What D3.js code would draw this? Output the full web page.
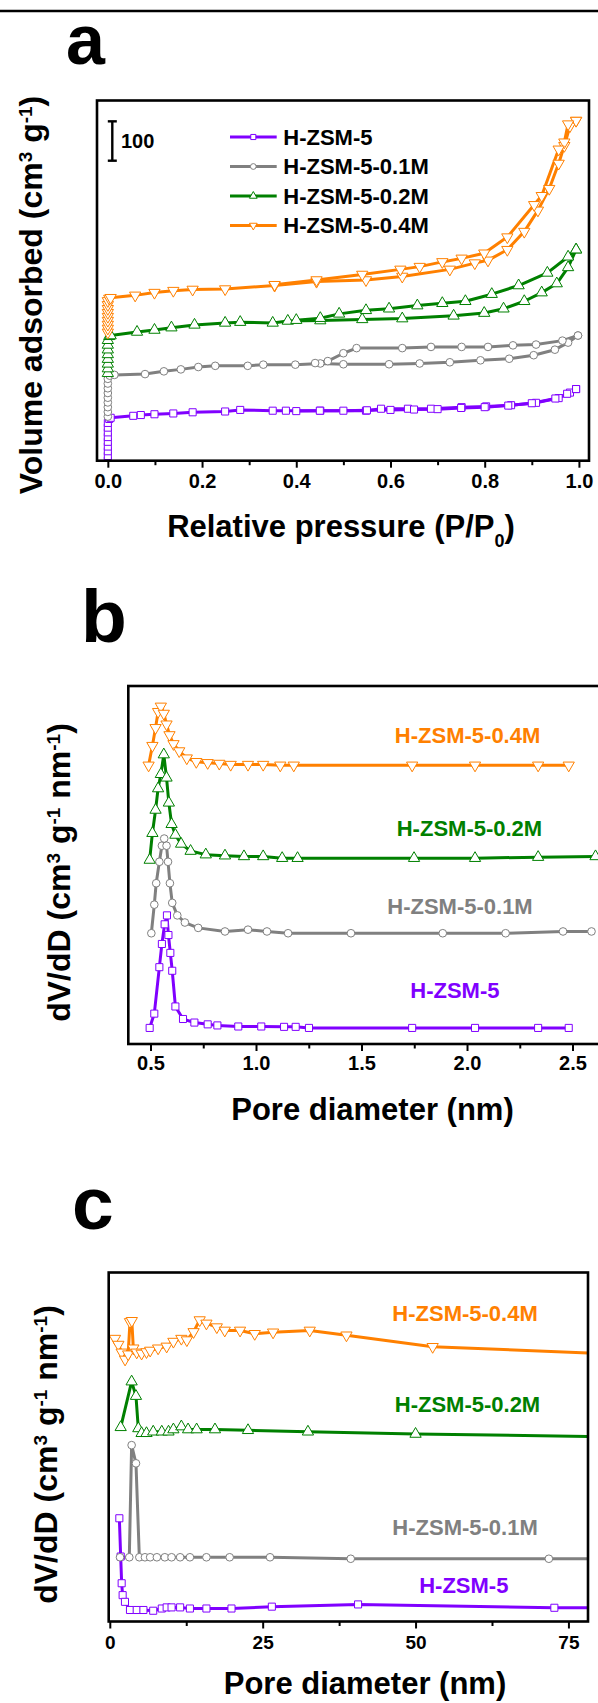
<!DOCTYPE html>
<html><head><meta charset="utf-8">
<script src="https://cdn.jsdelivr.net/npm/d3@7"></script>
<style>body{margin:0;background:#fff;}</style>
</head><body><svg id="fig" width="598" height="1703"></svg>
<script>
// ---------------- DATA ----------------
const seriesNames = ["H-ZSM-5", "H-ZSM-5-0.1M", "H-ZSM-5-0.2M", "H-ZSM-5-0.4M"];

// Panel a: N2 isotherms, x = P/P0, y = volume adsorbed (offset-stacked, cm3/g units)
const isoZSM5Ads = [[0,0],[0,12],[0,24],[0,36],[0,48],[0,60],[0,72],[0,84],[0,96],[0.003,106],[0.006,109],[0.054,114],[0.07,116],[0.099,118],[0.139,120],[0.18,123],[0.249,125],[0.281,129],[0.35,127],[0.378,127],[0.451,127],[0.548,127],[0.58,132],[0.637,132],[0.686,132],[0.751,136],[0.803,138],[0.856,141],[0.909,147],[0.957,159],[0.981,173],[0.994,182]];
const isoZSM5Des = [[0.994,182],[0.975,170],[0.95,158],[0.9,146],[0.85,140],[0.8,136],[0.75,134],[0.7,131],[0.65,130],[0.6,129],[0.55,128],[0.5,127],[0.45,127],[0.4,126]];
const iso01Ads = [[0,112],[0,124],[0,136],[0,148],[0,160],[0,172],[0,184],[0,196],[0,208],[0.004,216],[0.014,218],[0.079,220],[0.119,227],[0.155,232],[0.192,238],[0.228,241],[0.297,241],[0.33,244],[0.398,244],[0.451,247],[0.5,245],[0.597,245],[0.662,247],[0.726,250],[0.791,255],[0.852,259],[0.904,268],[0.949,282],[0.977,300],[0.998,318]];
const iso01Des = [[0.998,318],[0.965,305],[0.909,295],[0.86,293],[0.807,289],[0.751,289],[0.686,289],[0.625,286],[0.528,286],[0.5,273],[0.467,253],[0.44,248]];
const iso02Ads = [[0,222],[0,234],[0,246],[0,258],[0,270],[0,282],[0,294],[0,306],[0.003,316],[0.006,318],[0.062,327],[0.099,332],[0.135,338],[0.184,345],[0.249,350],[0.281,352],[0.35,350],[0.382,355],[0.451,356],[0.54,359],[0.625,361],[0.734,368],[0.799,375],[0.84,386],[0.884,405],[0.921,427],[0.953,450],[0.977,491],[0.994,536]];
const iso02Des = [[0.994,536],[0.977,518],[0.933,477],[0.872,445],[0.815,423],[0.759,405],[0.71,400],[0.657,394],[0.597,386],[0.548,382],[0.491,373],[0.451,362],[0.4,357]];
const iso04Ads = [[0,326],[0,336],[0,346],[0,356],[0,366],[0,376],[0,386],[0,396],[0,406],[0.003,412],[0.006,414],[0.058,420],[0.099,427],[0.139,432],[0.18,435],[0.249,436],[0.354,445],[0.443,455],[0.548,459],[0.625,468],[0.726,486],[0.779,502],[0.807,509],[0.848,536],[0.884,582],[0.913,636],[0.937,691],[0.957,755],[0.969,800],[0.981,850],[0.994,864]];
const iso04Des = [[0.994,864],[0.977,855],[0.969,809],[0.957,791],[0.921,673],[0.905,650],[0.848,568],[0.799,527],[0.751,514],[0.71,505],[0.662,493],[0.621,486],[0.54,473],[0.443,459],[0.354,447]];
const scaleBarValue = 100;

// Panel b: micropore size distribution, x = pore diameter (nm), y = dV/dD (offset, a.u.)
const psdB_ZSM5 = [[0.496,4.5],[0.518,8.5],[0.542,21.5],[0.554,28],[0.567,33.5],[0.578,36],[0.585,30.5],[0.594,25.5],[0.603,20.5],[0.618,10.5],[0.654,7],[0.708,6],[0.771,5.5],[0.817,5.2],[0.916,4.9],[1.025,4.9],[1.133,4.8],[1.188,4.8],[1.251,4.5],[1.74,4.5],[2.038,4.5],[2.337,4.5],[2.482,4.5]];
const psdB_01 = [[0.504,31],[0.518,39],[0.527,45],[0.542,51],[0.554,55.5],[0.565,57.5],[0.576,55.5],[0.583,51],[0.592,45],[0.603,39.5],[0.627,36],[0.663,34],[0.726,32.5],[0.853,31.5],[0.962,32],[1.052,31.5],[1.152,31],[1.45,31],[1.885,31],[2.183,31],[2.455,31.5],[2.59,31.5]];
const psdB_02 = [[0.496,51.5],[0.509,59],[0.524,65.5],[0.536,71.5],[0.549,75.5],[0.563,81],[0.576,74.5],[0.587,67.5],[0.6,61.5],[0.618,58.5],[0.645,56],[0.69,54],[0.762,53],[0.853,52.7],[0.943,52.5],[1.034,52.5],[1.124,52],[1.197,52],[1.749,52],[2.038,52],[2.337,52.3],[2.609,52.5]];
const psdB_04 = [[0.491,78],[0.509,83.5],[0.524,88.5],[0.536,93],[0.549,94.5],[0.563,92.5],[0.576,89.5],[0.59,86.5],[0.609,84],[0.636,82],[0.672,80],[0.717,79],[0.771,78.7],[0.826,78.5],[0.88,78.2],[0.962,78.2],[1.034,78.2],[1.115,78],[1.179,78],[1.74,78],[2.038,78],[2.337,78],[2.482,78]];

// Panel c: meso/macropore size distribution, x = pore diameter (nm), y = dV/dD (offset, a.u.)
const psdC_ZSM5 = [[1.56,27.8],[1.78,17.5],[1.94,10.3],[2.1,7.1],[2.48,5.3],[3.3,3.1],[4.4,3.1],[5.5,3.1],[7.1,2.9],[8.5,3.5],[9.3,3.8],[10.1,3.8],[11.5,3.8],[13.1,3.5],[15.8,3.5],[19.9,3.5],[26.5,4.0],[40.6,4.6],[72.7,3.7],[80,3.7]];
const psdC_01 = [[1.67,17.3],[3.19,17.3],[3.57,47.5],[4.28,42.6],[4.83,17.3],[5.75,17.3],[6.6,17.3],[7.7,17.3],[9.0,17.3],[10.1,17.3],[11.5,17.3],[13.1,17.3],[15.8,17.3],[19.6,17.3],[26.2,17.3],[39.4,16.9],[71.8,16.9],[80,16.9]];
const psdC_02 = [[1.78,52.3],[3.57,64.6],[4.28,60.7],[4.66,52],[5.2,50.7],[6.0,50.7],[7.1,51.1],[8.5,51.1],[9.6,51.1],[10.4,51.7],[11.7,52.5],[12.8,51.7],[14.2,51.7],[17.2,51.7],[22.6,51.5],[32.4,51.1],[50.0,50.5],[80,49.8]];
const psdC_04 = [[0.85,76.2],[1.4,74.6],[1.94,72.5],[2.5,70.6],[3.0,72],[3.3,80.7],[3.6,81],[3.85,73.6],[4.4,72.5],[5.2,72.2],[6.0,72.6],[6.6,73],[7.9,73.6],[9.3,74.1],[10.4,75.4],[11.7,76.2],[12.6,75.8],[13.7,78],[14.7,81.2],[15.8,80.3],[17.5,79.3],[18.8,78.4],[21.3,78.4],[23.7,77.5],[26.7,77.9],[32.7,78.4],[38.7,77.1],[52.8,74],[80,72.2]];

const ticksA = [0, 0.2, 0.4, 0.6, 0.8, 1.0], minorA = [0.1, 0.3, 0.5, 0.7, 0.9];
const ticksB = [0.5, 1.0, 1.5, 2.0, 2.5], minorB = [0.75, 1.25, 1.75, 2.25];
const ticksC = [0, 25, 50, 75], minorC = [12.5, 37.5, 62.5];

// ---------------- STYLE / LAYOUT ----------------
const FONT = '"Liberation Sans", Arial, Helvetica, sans-serif';
const colors = ["#8000ff", "#808080", "#008000", "#ff8000"];
const symbols = [d3.symbolSquare, d3.symbolCircle, d3.symbolTriangle, d3.symbolTriangle];
const symSize = [50, 46, 55, 55];
const symRot = [0, 0, 0, 180];

const svg = d3.select("#fig").style("font-family", FONT);
svg.append("rect").attr("width", 598).attr("height", 1703).attr("fill", "#fff");
svg.append("line").attr("x1", 0).attr("x2", 598).attr("y1", 11).attr("y2", 11)
  .attr("stroke", "#000").attr("stroke-width", 2.5);

function panelLetter(t, x, y, size) {
  svg.append("text").attr("x", x).attr("y", y).text(t)
    .attr("font-size", size).attr("font-weight", "bold").attr("fill", "#000");
}

let clipId = 0;
function makePanel(cfg) {
  const f = cfg.frame;
  const x = d3.scaleLinear().domain(cfg.xDomain).range([f.l, f.r]);
  const y = d3.scaleLinear().domain(cfg.yDomain).range([f.b, f.t]);
  const id = "clip" + (clipId++);
  svg.append("clipPath").attr("id", id).append("rect")
    .attr("x", f.l).attr("y", f.t).attr("width", f.r - f.l).attr("height", f.b - f.t);
  const plot = svg.append("g").attr("clip-path", `url(#${id})`);
  const line = d3.line().x(d => x(d[0])).y(d => y(d[1]));
  cfg.series.forEach(s => {
    s.branches.forEach(br => {
      plot.append("path").datum(br).attr("d", line).attr("fill", "none")
        .attr("stroke", colors[s.i]).attr("stroke-width", 3).attr("stroke-linejoin", "round");
    });
  });
  cfg.series.forEach(s => {
    s.branches.forEach(br => {
      plot.selectAll(null).data(br).enter().append("path")
        .attr("d", d3.symbol().type(symbols[s.i]).size(symSize[s.i]))
        .attr("transform", d => `translate(${x(d[0])},${y(d[1])}) rotate(${symRot[s.i]})`)
        .attr("fill", "#fff").attr("stroke", colors[s.i]).attr("stroke-width", 1);
    });
  });
  svg.append("rect").attr("x", f.l).attr("y", f.t).attr("width", f.r - f.l).attr("height", f.b - f.t)
    .attr("fill", "none").attr("stroke", "#000").attr("stroke-width", 2.6);
  const gMaj = svg.append("g").attr("transform", `translate(0,${f.b})`)
    .call(d3.axisBottom(x).tickValues(cfg.major).tickSize(7).tickPadding(cfg.pad).tickFormat(cfg.fmt));
  gMaj.select(".domain").remove();
  gMaj.selectAll("line").attr("stroke-width", 2);
  gMaj.selectAll("text").attr("font-size", cfg.tickFont).attr("font-weight", "bold")
    .attr("font-family", FONT).attr("fill", "#000");
  const gMin = svg.append("g").attr("transform", `translate(0,${f.b})`)
    .call(d3.axisBottom(x).tickValues(cfg.minor).tickSize(4.5).tickFormat(""));
  gMin.select(".domain").remove();
  gMin.selectAll("line").attr("stroke-width", 2);
  return { x, y };
}

function title(parts, cx, cy, rotate, size) {
  const t = svg.append("text").attr("font-size", size).attr("font-weight", "bold")
    .attr("text-anchor", "middle").attr("fill", "#000");
  if (rotate) t.attr("transform", `translate(${cx},${cy}) rotate(-90)`).attr("dy", "0.35em");
  else t.attr("x", cx).attr("y", cy);
  parts.forEach(p => {
    const ts = t.append("tspan").text(p.t);
    if (p.sup) ts.attr("baseline-shift", "super").attr("font-size", Math.round(size * 0.58));
    if (p.sub) ts.attr("baseline-shift", "sub").attr("font-size", Math.round(size * 0.58));
  });
}

// ---------------- PANEL A ----------------
panelLetter("a", 66, 63.5, 70);
const A = makePanel({
  frame: { l: 97, t: 100.5, r: 589, b: 460.7 },
  xDomain: [-0.023, 1.0214], yDomain: [0, 915],
  major: ticksA, minor: minorA, fmt: d3.format(".1f"), tickFont: 20, pad: 6,
  series: [
    { i: 0, branches: [isoZSM5Ads, isoZSM5Des] },
    { i: 1, branches: [iso01Ads, iso01Des] },
    { i: 2, branches: [iso02Ads, iso02Des] },
    { i: 3, branches: [iso04Ads, iso04Des] }
  ]
});
{
  const barBottom = 160.7, h = A.y(0) - A.y(scaleBarValue), bx = 112.3;
  const g = svg.append("g").attr("stroke", "#000").attr("stroke-width", 2.4);
  g.append("line").attr("x1", bx).attr("x2", bx).attr("y1", barBottom - h).attr("y2", barBottom);
  g.append("line").attr("x1", bx - 4.5).attr("x2", bx + 4.5).attr("y1", barBottom - h).attr("y2", barBottom - h);
  g.append("line").attr("x1", bx - 4.5).attr("x2", bx + 4.5).attr("y1", barBottom).attr("y2", barBottom);
  svg.append("text").attr("x", 121).attr("y", barBottom - h / 2).attr("dy", "0.35em")
    .attr("font-size", 20).attr("font-weight", "bold").text(scaleBarValue);
}
seriesNames.forEach((n, i) => {
  const yy = 137 + i * 29.5;
  svg.append("line").attr("x1", 230).attr("x2", 276.7).attr("y1", yy).attr("y2", yy)
    .attr("stroke", colors[i]).attr("stroke-width", 3);
  svg.append("path").attr("d", d3.symbol().type(symbols[i]).size(26))
    .attr("transform", `translate(253.3,${yy}) rotate(${symRot[i]})`)
    .attr("fill", "#fff").attr("stroke", colors[i]).attr("stroke-width", 1);
  svg.append("text").attr("x", 283.3).attr("y", yy).attr("dy", "0.36em")
    .attr("font-size", 22).attr("font-weight", "bold").attr("fill", "#000").text(n);
});
title([{ t: "Volume adsorbed (cm" }, { t: "3", sup: true }, { t: " g" }, { t: "-1", sup: true }, { t: ")" }], 30.5, 295, true, 32);
title([{ t: "Relative pressure (P/P" }, { t: "0", sub: true }, { t: ")" }], 341, 537, false, 31);

// ---------------- PANEL B ----------------
panelLetter("b", 81, 642, 75);
const B = makePanel({
  frame: { l: 128.3, t: 686, r: 620, b: 1044 },
  xDomain: [0.3948, 2.725], yDomain: [0, 100.2],
  major: ticksB, minor: minorB, fmt: d3.format(".1f"), tickFont: 20, pad: 5,
  series: [
    { i: 0, branches: [psdB_ZSM5] },
    { i: 1, branches: [psdB_01] },
    { i: 2, branches: [psdB_02] },
    { i: 3, branches: [psdB_04] }
  ]
});
const labelPosB = [[1.731, 15], [1.622, 38.5], [1.667, 60.5], [1.658, 86.5]];
seriesNames.forEach((n, i) => {
  svg.append("text").attr("x", B.x(labelPosB[i][0])).attr("y", B.y(labelPosB[i][1])).attr("dy", "0.36em")
    .attr("font-size", 22).attr("font-weight", "bold").attr("fill", colors[i]).text(n);
});
title([{ t: "dV/dD (cm" }, { t: "3", sup: true }, { t: " g" }, { t: "-1", sup: true }, { t: " nm" }, { t: "-1", sup: true }, { t: ")" }], 59, 872.5, true, 32);
title([{ t: "Pore diameter (nm)" }], 372.5, 1120, false, 31);

// ---------------- PANEL C ----------------
panelLetter("c", 72, 1229, 75);
const C = makePanel({
  frame: { l: 108.7, t: 1272.5, r: 588, b: 1621.5 },
  xDomain: [-0.18, 78.2], yDomain: [0, 94],
  major: ticksC, minor: minorC, fmt: d3.format("d"), tickFont: 19, pad: 7,
  series: [
    { i: 0, branches: [psdC_ZSM5] },
    { i: 1, branches: [psdC_01] },
    { i: 2, branches: [psdC_02] },
    { i: 3, branches: [psdC_04] }
  ]
});
const labelPosC = [[50.6, 9.9], [46.2, 25.4], [46.6, 58.5], [46.2, 83]];
seriesNames.forEach((n, i) => {
  svg.append("text").attr("x", C.x(labelPosC[i][0])).attr("y", C.y(labelPosC[i][1])).attr("dy", "0.36em")
    .attr("font-size", 22).attr("font-weight", "bold").attr("fill", colors[i]).text(n);
});
title([{ t: "dV/dD (cm" }, { t: "3", sup: true }, { t: " g" }, { t: "-1", sup: true }, { t: " nm" }, { t: "-1", sup: true }, { t: ")" }], 45.8, 1454.5, true, 32);
title([{ t: "Pore diameter (nm)" }], 365, 1694, false, 31);
</script></body></html>
